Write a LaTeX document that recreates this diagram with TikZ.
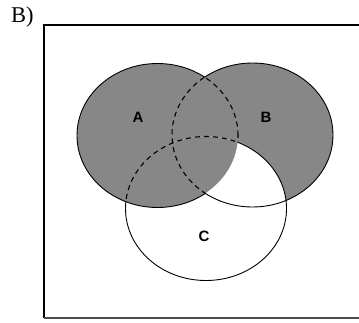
\documentclass[tikz,border=0pt]{standalone}
\usepackage{fontspec}
\setmainfont{Liberation Serif}
\setsansfont{Liberation Sans}
\begin{document}
\def\VennA{(157.5,135.5) ellipse [x radius=80.5pt, y radius=72pt]}
\def\VennB{(252.5,135) ellipse [x radius=80.5pt, y radius=72pt]}
\def\VennC{(206,208.5) ellipse [x radius=80.5pt, y radius=72pt]}
\def\VennAll{(0,0) rectangle (359,322)}
\begin{tikzpicture}[x=1pt,y=-1pt,
  shadefill/.style={fill=black!47},
  outline/.style={draw=black, line width=0.9pt},
  inner/.style={draw=black, line width=1.1pt, dash pattern=on 5pt off 4pt},
  setlabel/.style={font=\sffamily\bfseries\fontsize{15}{15}\selectfont, inner sep=0pt},
  framebox/.style={draw=black, line width=1.2pt},
  framebottom/.style={draw=black!70, line width=2pt}]
\useasboundingbox (0,0) rectangle (359,322);
\fill[white] (0,0) rectangle (359,322);
% frame
\coordinate (fTR) at (359,25);
\coordinate (fTL) at (44,25);
\coordinate (fBL) at (44,318);
\coordinate (fBR) at (359,318);
\draw[framebox] (fTR) -- (fTL) -- (fBL);
\draw[framebottom] (fBL) -- (fBR);
\node[anchor=base west, inner sep=0pt, font=\fontsize{22.5}{22.5}\selectfont] (title) at (11,22) {B)};
% shading
\fill[shadefill] \VennA;
\fill[shadefill] \VennB;
\begin{scope}[even odd rule]
  \clip \VennB;
  \clip \VennC;
  \fill[white] \VennC \VennA;
\end{scope}
% outlines of A
\begin{scope}[even odd rule]
  \clip \VennAll \VennB;
  \draw[outline] \VennA;
\end{scope}
\begin{scope}[even odd rule]
  \clip \VennB;
  \clip \VennAll \VennC;
  \draw[inner] \VennA;
\end{scope}
% outlines of B
\begin{scope}[even odd rule]
  \clip \VennAll \VennA;
  \draw[outline] \VennB;
\end{scope}
\begin{scope}
  \clip \VennA;
  \draw[inner] \VennB;
\end{scope}
% outlines of C
\begin{scope}[even odd rule]
  \clip \VennAll \VennA;
  \draw[outline] \VennC;
\end{scope}
\begin{scope}
  \clip \VennA;
  \draw[inner] \VennC;
\end{scope}
% labels
\node[setlabel] (labA) at (138,117.5) {A};
\node[setlabel] (labB) at (266,117.5) {B};
\node[setlabel] (labC) at (204,236.5) {C};
\end{tikzpicture}
\end{document}
